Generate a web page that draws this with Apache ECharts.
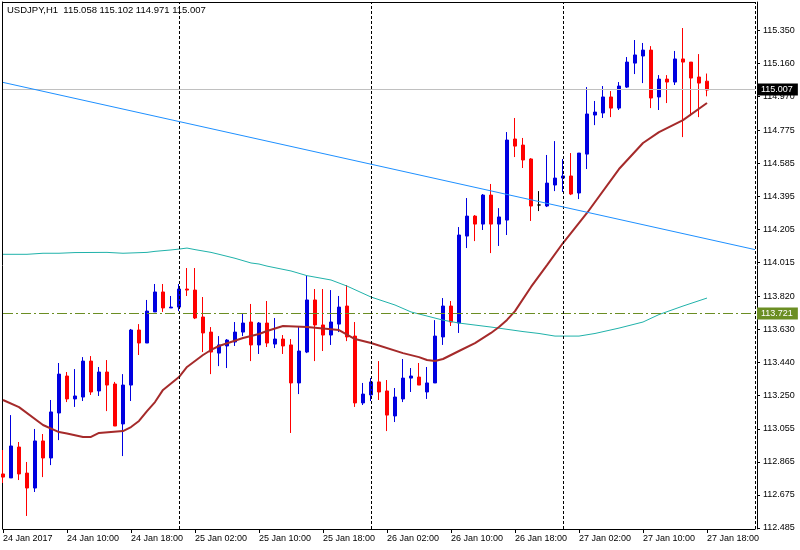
<!DOCTYPE html>
<html><head><meta charset="utf-8">
<script src="https://cdn.jsdelivr.net/npm/echarts@6/dist/echarts.min.js"></script>
<style>html,body{margin:0;padding:0;background:#fff}#c{width:800px;height:550px}</style>
</head><body><div id="c"></div>
<script>
const titleText = 'USDJPY,H1  115.058 115.102 114.971 115.007';
const firstLabel = '24 Jan 2017';
const startDay = 24, startHour = 2, slotCount = 95;

const opens = [112.796,112.773,112.951,112.801,112.715,112.986,112.888,113.147,113.360,113.228,
113.239,113.446,113.274,113.383,113.314,113.084,113.308,113.625,113.550,113.729,
113.844,113.752,113.757,113.861,113.855,113.700,113.613,113.492,113.533,113.556,
113.613,113.671,113.539,113.665,113.544,113.573,113.539,113.320,113.498,113.798,
113.654,113.596,113.659,113.763,113.590,113.205,113.251,113.326,113.274,113.130,
113.228,113.348,113.354,113.268,113.320,113.585,113.763,113.665,114.166,114.281,
114.235,114.402,114.235,114.258,114.725,114.690,114.610,114.345,114.339,114.460,
114.500,114.512,114.414,114.638,114.863,114.875,114.967,114.903,115.024,115.162,
115.203,115.237,114.967,115.070,115.053,115.186,115.168,115.082,115.058];
const closes = [112.778,112.957,112.796,112.715,112.986,112.888,113.153,113.371,113.228,113.245,
113.446,113.268,113.383,113.308,113.072,113.308,113.625,113.550,113.734,113.844,
113.752,113.757,113.861,113.855,113.694,113.608,113.498,113.539,113.567,113.613,
113.665,113.539,113.665,113.550,113.573,113.533,113.320,113.504,113.798,113.654,
113.596,113.671,113.757,113.585,113.205,113.256,113.326,113.268,113.135,113.239,
113.348,113.360,113.308,113.320,113.590,113.763,113.671,114.172,114.281,114.235,
114.402,114.235,114.276,114.719,114.684,114.604,114.339,114.345,114.471,114.500,
114.512,114.408,114.644,114.869,114.880,114.967,114.903,115.030,115.168,115.209,
115.237,114.961,115.070,115.053,115.186,115.168,115.076,115.047,115.007];
const highs = [112.934,113.135,112.980,112.865,113.055,113.026,113.222,113.435,113.383,113.400,
113.469,113.475,113.412,113.452,113.326,113.371,113.631,113.659,113.798,113.890,
113.890,113.821,113.890,113.982,113.982,113.815,113.642,113.590,113.573,113.671,
113.723,113.775,113.671,113.792,113.694,113.596,113.573,113.642,113.936,113.861,
113.861,113.855,113.821,113.884,113.671,113.320,113.348,113.446,113.337,113.291,
113.458,113.406,113.435,113.412,113.682,113.809,113.792,114.218,114.385,114.287,
114.408,114.466,114.327,114.765,114.846,114.731,114.615,114.425,114.633,114.713,
114.610,114.644,114.644,115.024,114.944,115.030,115.001,115.053,115.197,115.295,
115.278,115.260,115.093,115.093,115.232,115.364,115.168,115.214,115.102];
const lows = [112.744,112.773,112.761,112.554,112.692,112.778,112.847,112.991,113.210,113.182,
113.216,113.251,113.245,113.158,113.072,112.899,113.216,113.481,113.550,113.729,
113.729,113.752,113.734,113.821,113.688,113.498,113.371,113.417,113.406,113.533,
113.590,113.446,113.487,113.527,113.521,113.487,113.032,113.256,113.492,113.446,
113.504,113.539,113.613,113.561,113.182,113.193,113.216,113.222,113.043,113.095,
113.210,113.268,113.308,113.228,113.320,113.539,113.648,113.608,114.097,114.137,
114.201,114.068,114.109,114.172,114.621,114.558,114.253,114.310,114.333,114.425,
114.420,114.402,114.379,114.552,114.805,114.846,114.851,114.892,115.019,115.099,
115.047,114.903,114.892,114.932,115.036,114.736,114.857,114.851,114.971];

const maFast = [[0,113.222],[2,113.181],[5,113.078],[7,113.037],[8,113.029],[10,113.009],[11,113.009],[12,113.032],[15,113.043],[16,113.066],[17,113.101],[18,113.158],[19,113.210],[20,113.280],[22,113.354],[23,113.412],[25,113.481],[26,113.510],[27,113.533],[30,113.579],[32,113.602],[33,113.619],[35,113.648],[38,113.642],[42,113.625],[44,113.573],[46,113.550],[50,113.492],[52,113.469],[53,113.452],[54,113.446],[55,113.458],[57,113.504],[59,113.550],[61,113.608],[62,113.642],[63,113.683],[64,113.734],[66,113.873],[68,113.999],[70,114.126],[73,114.299],[77,114.552],[80,114.702],[82,114.765],[85,114.834],[88,114.932]];
const maSlow = [[0,114.061],[3,114.061],[5,114.067],[7,114.067],[9,114.071],[13,114.072],[15,114.067],[18,114.072],[19,114.078],[21,114.086],[22,114.091],[23,114.097],[24,114.088],[26,114.072],[27,114.061],[29,114.038],[31,114.011],[32,114.005],[33,113.993],[36,113.965],[38,113.938],[41,113.913],[43,113.878],[46,113.815],[49,113.769],[51,113.729],[55,113.682],[57,113.665],[61,113.642],[65,113.616],[67,113.605],[69,113.590],[72,113.590],[74,113.605],[77,113.636],[80,113.671],[82,113.714],[85,113.763],[88,113.809]];
const trendLine = [[0,115.051],[94,114.088]];
const priceTicks = [112.485,112.675,112.865,113.055,113.250,113.440,113.630,113.820,114.015,114.205,114.395,114.585,114.775,114.970,115.160,115.350];
const lastPrice = 115.007;
const levelPrice = 113.721;
const daySeparators = ['25 Jan 00:00','26 Jan 00:00','27 Jan 00:00','28 Jan 00:00'];
const yMin = 112.479, yMax = 115.514;

const MONTH = 'Jan';
const pad = n => (n < 10 ? '0' : '') + n;
const categories = [];
for (let k = 0; k < slotCount; k++) {
  const h = startHour + k;
  categories.push((startDay + Math.floor(h / 24)) + ' ' + MONTH + ' ' + pad(h % 24) + ':00');
}
const candleData = opens.map((o, i) => [o, closes[i], lows[i], highs[i]]);

const FONT = "'Liberation Sans', Arial, sans-serif";
const chart = echarts.init(document.getElementById('c'), null, {renderer: 'canvas'});
chart.setOption({
  animation: false,
  backgroundColor: '#ffffff',
  title: {text: titleText, left: 7, top: 5, padding: 0,
    textStyle: {fontSize: 9.5, fontWeight: 'normal', color: '#000', fontFamily: FONT}},
  grid: {left: 3, top: 2, width: 752, height: 527, show: false},
  xAxis: [{
    type: 'category', data: categories, boundaryGap: false, position: 'bottom',
    axisLine: {show: true, lineStyle: {color: '#000', width: 1}},
    axisTick: {show: true, interval: 7, length: 4, lineStyle: {color: '#000'}},
    axisLabel: {show: true, interval: 7, align: 'left', margin: 5, color: '#000', fontSize: 9, fontFamily: FONT,
      hideOverlap: false, formatter: (v, idx) => idx === 0 ? firstLabel : v},
    splitLine: {show: false}
  }, {
    type: 'category', data: categories, boundaryGap: false, position: 'top',
    axisLine: {show: true, lineStyle: {color: '#000', width: 1}},
    axisTick: {show: false}, axisLabel: {show: false}, splitLine: {show: false}
  }],
  yAxis: [{
    type: 'value', position: 'right', offset: 2, min: yMin, max: yMax,
    axisLine: {show: true, lineStyle: {color: '#000', width: 1}},
    axisTick: {show: true, length: 3, lineStyle: {color: '#000'}, customValues: priceTicks},
    axisLabel: {show: true, margin: 6, color: '#000', fontSize: 9, fontFamily: FONT,
      customValues: priceTicks, formatter: v => Number(v).toFixed(3)},
    splitLine: {show: false}
  }, {
    type: 'value', position: 'left', offset: 1, min: yMin, max: yMax,
    axisLine: {show: true, lineStyle: {color: '#000', width: 1}},
    axisTick: {show: false}, axisLabel: {show: false}, splitLine: {show: false}
  }],
  series: [{
    type: 'line', name: 'levels', data: [], silent: true, z: 1,
    markLine: {
      silent: true, symbol: ['none', 'none'], animation: false,
      data: [
        {yAxis: lastPrice, lineStyle: {color: '#C0C0C0', type: 'solid', width: 1},
          label: {show: true, position: 'end', distance: 2, formatter: lastPrice.toFixed(3),
            backgroundColor: '#000', color: '#fff', padding: [2, 5, 1, 4], fontSize: 9, fontFamily: FONT}},
        {yAxis: levelPrice, lineStyle: {color: '#6B8E23', type: [10, 3, 2, 3], width: 1},
          label: {show: true, position: 'end', distance: 2, formatter: levelPrice.toFixed(3),
            backgroundColor: '#6B8E23', color: '#fff', padding: [2, 5, 1, 4], fontSize: 9, fontFamily: FONT}}
      ].concat(daySeparators.map(d => ({xAxis: d,
        lineStyle: {color: '#000', type: [3, 2], width: 1}, label: {show: false}})))
    }
  }, {
    type: 'candlestick', name: 'USDJPY', data: candleData, barWidth: 4, z: 3,
    itemStyle: {color: '#0000E0', color0: '#FF0000', borderColor: '#0000E0', borderColor0: '#FF0000',
      borderColorDoji: '#000000', borderWidth: 1}
  }, {
    type: 'line', name: 'MA slow', data: maSlow, showSymbol: false, z: 4,
    lineStyle: {color: '#20B2AA', width: 1}
  }, {
    type: 'line', name: 'MA fast', data: maFast, showSymbol: false, z: 4,
    lineStyle: {color: '#A52A2A', width: 2}
  }, {
    type: 'line', name: 'trend', data: trendLine, showSymbol: false, z: 5, clip: true,
    lineStyle: {color: '#1E90FF', width: 1}
  }]
});
</script></body></html>
